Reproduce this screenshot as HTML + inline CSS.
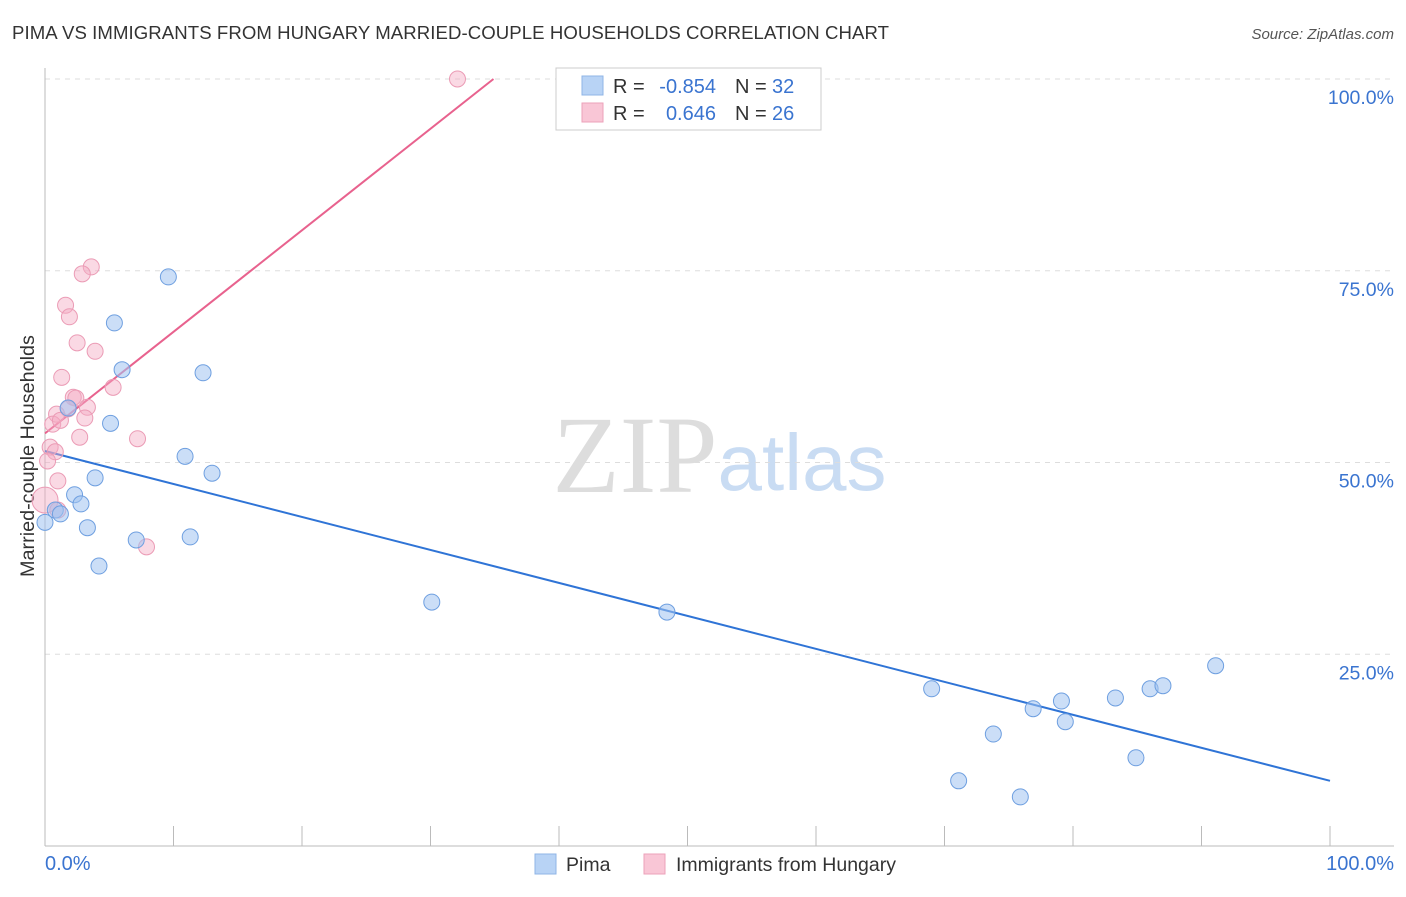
<!DOCTYPE html>
<html><head><meta charset="utf-8"><style>
body{margin:0;background:#fff;font-family:"Liberation Sans",sans-serif;}
</style></head><body>
<svg id="chart" width="1406" height="892" xmlns="http://www.w3.org/2000/svg">
<text x="12" y="39" font-size="18.6" fill="#333" textLength="877">PIMA VS IMMIGRANTS FROM HUNGARY MARRIED-COUPLE HOUSEHOLDS CORRELATION CHART</text>
<text x="1394" y="39" font-size="15" fill="#555" font-style="italic" text-anchor="end">Source: ZipAtlas.com</text>
<text x="34" y="456" font-size="19.8" fill="#333" text-anchor="middle" transform="rotate(-90 34 456)">Married-couple Households</text>
<text x="635" y="492" font-size="110" fill="#ddd" font-family="Liberation Serif,serif" text-anchor="middle">ZIP</text>
<text x="802" y="490" font-size="80" fill="#c9dcf3" text-anchor="middle">atlas</text>
<g id="grid"></g><g id="lines"></g><g id="pts"></g>
<g>
<rect x="556" y="68" width="265" height="62" fill="#fff" stroke="#ccc"/>
<rect x="582" y="76" width="21" height="19" fill="#b8d3f5" stroke="#8fb5e6"/>
<rect x="582" y="103" width="21" height="19" fill="#f9c6d6" stroke="#eca2ba"/>
<text x="613" y="93" font-size="20" fill="#333">R =</text>
<text x="716" y="93" font-size="20" fill="#3a74d0" text-anchor="end">-0.854</text>
<text x="735" y="93" font-size="20" fill="#333">N =</text>
<text x="772" y="93" font-size="20" fill="#3a74d0">32</text>
<text x="613" y="120" font-size="20" fill="#333">R =</text>
<text x="716" y="120" font-size="20" fill="#3a74d0" text-anchor="end">0.646</text>
<text x="735" y="120" font-size="20" fill="#333">N =</text>
<text x="772" y="120" font-size="20" fill="#3a74d0">26</text>
</g>
<g>
<rect x="535" y="854" width="21" height="20" fill="#b8d3f5" stroke="#8fb5e6"/>
<text x="566" y="871" font-size="19.5" fill="#333">Pima</text>
<rect x="644" y="854" width="21" height="20" fill="#f9c6d6" stroke="#eca2ba"/>
<text x="676" y="871" font-size="19.5" fill="#333">Immigrants from Hungary</text>
</g>
<text x="45" y="870" font-size="20" fill="#3a74d0">0.0%</text>
<text x="1394" y="870" font-size="20" fill="#3a74d0" text-anchor="end">100.0%</text>
</svg>
<script>
const yTicks=[100,75,50,25];
const yTickLabels=["100.0%","75.0%","50.0%","25.0%"];
const pimaX=[0,0.8,1.2,2.3,2.8,3.3,3.9,4.2,5.1,5.4,6.0,7.1,9.6,10.9,11.3,12.3,13.0,30.1,48.4,69.0,71.1,73.8,75.9,76.9,79.1,79.4,83.3,84.9,86.0,87.0,91.1,1.8];
const pimaY=[42.2,43.8,43.3,45.8,44.6,41.5,48.0,36.5,55.1,68.2,62.1,39.9,74.2,50.8,40.3,61.7,48.6,31.8,30.5,20.5,8.5,14.6,6.4,17.9,18.9,16.2,19.3,11.5,20.5,20.9,23.5,57.1];
const hunX=[32.1,3.6,2.9,1.6,1.9,2.5,3.9,1.3,5.3,2.2,2.4,3.3,1.8,3.1,0.9,0.6,2.7,7.2,0.4,0.8,0.2,1.0,0,1.0,7.9,1.2];
const hunY=[100,75.5,74.6,70.5,69.0,65.6,64.5,61.1,59.8,58.5,58.4,57.2,57.0,55.8,56.3,55.0,53.3,53.1,52.0,51.4,50.2,47.6,45.1,43.8,39.0,55.5];
const pimaLine=[[0,51.5],[100,8.5]];
const hunLine=[[0,53.8],[34.9,100]];
const NS="http://www.w3.org/2000/svg";
const X=v=>45+v*12.85, Y=v=>846-v*7.67;
function mk(t,a,p){const e=document.createElementNS(NS,t);for(const k in a)e.setAttribute(k,a[k]);p.appendChild(e);return e;}
const grid=document.getElementById('grid');
yTicks.forEach((t,i)=>{
 const l=mk('line',{x1:45,x2:1394,y1:Y(t),y2:Y(t),stroke:'#ddd','stroke-dasharray':'5,5'},grid);
 
 
 const tx=mk('text',{x:1394,y:Y(t)+25,'font-size':19.5,fill:'#3a74d0','text-anchor':'end'},grid);
 tx.textContent=yTickLabels[i];
 
 
});
mk('line',{x1:45,x2:45,y1:68,y2:846,stroke:'#bbb'},grid);
mk('line',{x1:45,x2:1394,y1:846,y2:846,stroke:'#bbb'},grid);
for(let i=0;i<=10;i++){const t=mk('line',{x1:X(i*10),x2:X(i*10),y1:826,y2:846,stroke:'#bbb'},grid);
 
 }
const lines=document.getElementById('lines');
const bl=mk('line',{x1:X(pimaLine[0][0]),y1:Y(pimaLine[0][1]),x2:X(pimaLine[1][0]),y2:Y(pimaLine[1][1]),stroke:'#2f74d6','stroke-width':2},lines);


const pl=mk('line',{x1:X(hunLine[0][0]),y1:Y(hunLine[0][1]),x2:X(hunLine[1][0]),y2:Y(hunLine[1][1]),stroke:'#e8628e','stroke-width':2},lines);


const pts=document.getElementById('pts');
hunX.forEach((x,i)=>{const c=mk('circle',{cx:X(x),cy:Y(hunY[i]),r:(i==22?13:8),fill:'rgba(245,170,195,0.45)',stroke:'#eb9bb5','stroke-width':1},pts);
 
 });
pimaX.forEach((x,i)=>{const c=mk('circle',{cx:X(x),cy:Y(pimaY[i]),r:8,fill:'rgba(160,195,240,0.55)',stroke:'#6e9fe0','stroke-width':1},pts);
 
 });
</script>
</body></html>
